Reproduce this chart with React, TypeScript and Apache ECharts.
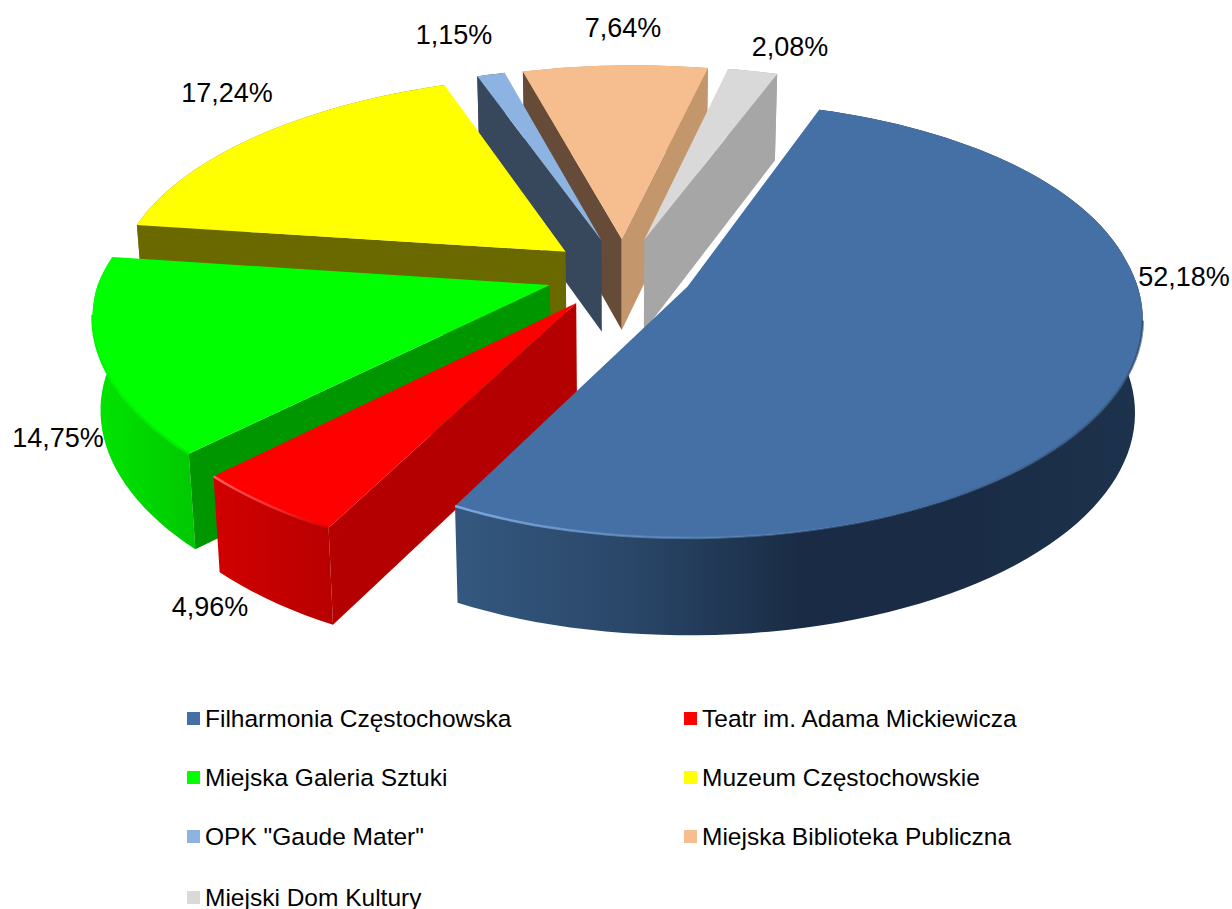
import React, { useEffect, useRef } from "react";
import * as echarts from "echarts";

// Data
const categories = [
  "Filharmonia Częstochowska",
  "Teatr im. Adama Mickiewicza",
  "Miejska Galeria Sztuki",
  "Muzeum Częstochowskie",
  'OPK "Gaude Mater"',
  "Miejska Biblioteka Publiczna",
  "Miejski Dom Kultury",
];
const shares = [52.18, 4.96, 14.75, 17.24, 1.15, 7.64, 2.08];

// Styles
const topColors = ["#4470a5", "#ff0000", "#00ff00", "#ffff00", "#8db3e2", "#f6be8e", "#d9d9d9"];
const startFaceColors = ["#26405f", "#b40000", "#009600", "#696900", "#37475c", "#654b38", "#a6a6a6"];
const endFaceColors = ["#26405f", "#b40000", "#009600", "#696900", "#37475c", "#c4966c", "#a6a6a6"];
const wallStops: string[][] = [
  ["#34587f", "#2a4769", "#1a2c45", "#1a2c45", "#1d324d"],
  ["#d20000", "#b80000"],
  ["#00e600", "#00c800"],
  ["#7c7c00", "#7c7c00"],
  ["#37475c", "#37475c"],
  ["#c4966c", "#c4966c"],
  ["#a6a6a6", "#a6a6a6"],
];
const rimStops: string[][] = [
  ["rgba(40,66,100,0.6)", "rgba(60,100,150,0.5)", "rgba(90,135,190,0.7)", "#7fa9de"],
  ["#d80000", "#ff6060"],
  ["#00e800", "#00f800"],
];
// back-to-front painting rank of every slice, same order as categories
const paintRank = [6, 5, 4, 3, 1, 0, 2];
const explodes = [0.157, 0.17, 0.17, 0.17, 0.17, 0.17, 0.17];
const labelCenters = [
  [1184, 277],
  [210, 607],
  [58, 438],
  [227, 93],
  [454, 35],
  [623, 28],
  [790, 47],
];

// Perspective of the pie
const FIRST_ANGLE = 22;
const CX = 623;
const CY = 273.6;
const R = 447;
const RT = 209;
const K = 0.15;
const K_BACK_X = 0.13;
const YAW = 0.01;
const ROLL = 11;
const WARP = 24;
const SHEAR = 0.03;
const WALL = 92;
const WALL_SLOPE = 5;
const WALL_SHRINK = 0.985;

const rad = (a: number) => (a * Math.PI) / 180;
const total = shares.reduce((s, v) => s + v, 0);

function project(x: number, y: number, lower: boolean): number[] {
  const d = 1 - K * y + YAW * x;
  const dx = 1 - (y < 0 ? K_BACK_X : K) * y + YAW * x;
  let X = (R * (x + SHEAR * y)) / dx;
  if (x < -0.2 && y > 0) X -= WARP * (x + 0.2) * y;
  let Y = CY + (RT * y) / d - ROLL * x;
  if (lower) {
    X *= WALL_SHRINK;
    Y += WALL + WALL_SLOPE * y;
  }
  return [CX + X, Y];
}

// a cut face shows only when moving down the screen leaves the top of the slice
function faceVisible(apex: number[], end: number[], inner: number[]) {
  const ex = end[0] - apex[0];
  const ey = end[1] - apex[1];
  const side = ex * (inner[1] - apex[1]) - ey * (inner[0] - apex[0]);
  return ex * side < 0;
}

function renderSlice(index: number) {
  return (_params: any, api: any) => {
    const value = api.value(0);
    const before = shares.slice(0, index).reduce((s, v) => s + v, 0);
    const a0 = FIRST_ANGLE + (before / total) * 360;
    const a1 = a0 + (value / total) * 360;
    const mid = rad((a0 + a1) / 2);
    const ax = explodes[index] * Math.sin(mid);
    const ay = -explodes[index] * Math.cos(mid);
    const steps = Math.max(6, Math.round((a1 - a0) / 2));
    const rim: number[][] = [];
    for (let i = 0; i <= steps; i++) {
      const a = rad(a0 + ((a1 - a0) * i) / steps);
      rim.push([ax + Math.sin(a), ay - Math.cos(a)]);
    }
    const top = rim.map((p) => project(p[0], p[1], false));
    const bottom = rim.map((p) => project(p[0], p[1], true));
    const apexTop = project(ax, ay, false);
    const apexBottom = project(ax, ay, true);
    const inner = top[Math.round(steps / 2)];
    const stops = wallStops[index];
    const wallFill = {
      type: "linear",
      x: 0,
      y: 0,
      x2: 1,
      y2: 0,
      colorStops: stops.map((color, i) => ({ offset: i / (stops.length - 1), color })),
    };
    const children: any[] = [
      {
        type: "polygon",
        shape: { points: [...top, ...bottom.slice().reverse()] },
        style: { fill: wallFill },
      },
    ];
    if (faceVisible(apexTop, top[0], inner)) {
      children.push({
        type: "polygon",
        shape: { points: [apexTop, top[0], bottom[0], apexBottom] },
        style: { fill: startFaceColors[index] },
      });
    }
    if (faceVisible(apexTop, top[steps], inner)) {
      children.push({
        type: "polygon",
        shape: { points: [apexTop, top[steps], bottom[steps], apexBottom] },
        style: { fill: endFaceColors[index] },
      });
    }
    children.push({
      type: "polygon",
      shape: { points: [apexTop, ...top] },
      style: { fill: topColors[index] },
    });
    if (rimStops[index]) {
      const rs = rimStops[index];
      children.push({
        type: "polyline",
        shape: { points: top.filter((p) => p[1] > CY + 40) },
        style: {
          fill: "none",
          lineWidth: 2.5,
          stroke: {
            type: "linear",
            x: 1,
            y: 0,
            x2: 0,
            y2: 0,
            colorStops: rs.map((color, i) => ({ offset: i / (rs.length - 1), color })),
          },
        },
      });
    }
    return { type: "group", children };
  };
}

const LEGEND_FONT = { fontFamily: "Liberation Sans", fontSize: 24.5, color: "#000" };
const legendBase = {
  orient: "vertical",
  itemWidth: 13,
  itemHeight: 13,
  itemGap: 34,
  icon: "rect",
  textStyle: LEGEND_FONT,
  selectedMode: false,
  padding: 0,
};

function buildOption() {
  return {
    animation: false,
    backgroundColor: "#ffffff",
    legend: [
      { ...legendBase, left: 187, top: 706, data: categories.slice(0, 6).filter((_, i) => i % 2 === 0) },
      { ...legendBase, left: 684, top: 706, data: categories.filter((_, i) => i % 2 === 1) },
      { ...legendBase, left: 187, top: 885, data: categories.slice(6) },
    ],
    graphic: shares.map((v, i) => ({
      type: "text",
      x: labelCenters[i][0],
      y: labelCenters[i][1],
      z: 50,
      style: {
        text: v.toFixed(2).replace(".", ",") + "%",
        font: "27px 'Liberation Sans'",
        fill: "#000",
        align: "center",
        verticalAlign: "middle",
      },
    })),
    series: categories.map((name, i) => ({
      type: "custom",
      name,
      coordinateSystem: "none",
      z: 2 + paintRank[i],
      silent: true,
      itemStyle: { color: topColors[i] },
      data: [[shares[i]]],
      renderItem: renderSlice(i),
    })),
  };
}

export default function App() {
  const ref = useRef<HTMLDivElement>(null);
  useEffect(() => {
    document.body.style.margin = "0";
    const chart = echarts.init(ref.current!, undefined, { renderer: "svg" });
    chart.setOption(buildOption() as any);
    return () => chart.dispose();
  }, []);
  return <div ref={ref} style={{ width: 1232, height: 909 }} />;
}
